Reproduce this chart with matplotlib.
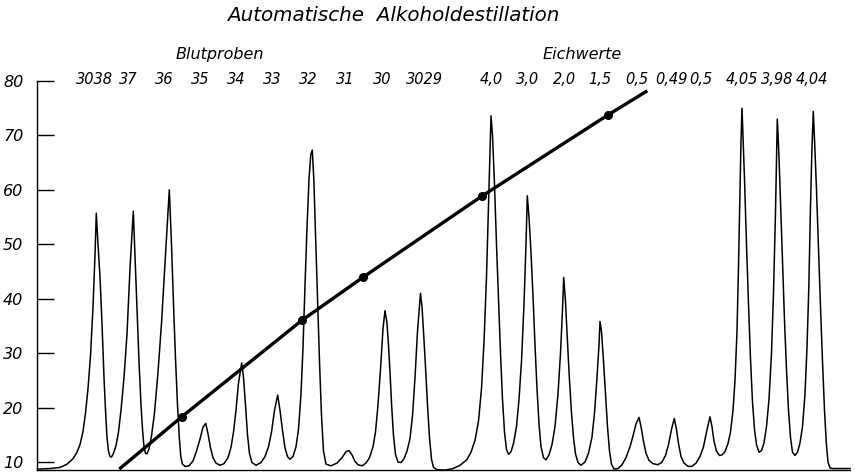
import matplotlib
matplotlib.use("Agg")
import matplotlib.pyplot as plt
from matplotlib import font_manager

# recorder trace (chart position, reading)
trace = [
    (37.5, 8.7), (50, 8.8), (60, 9.0), (67, 9.6), (73, 10.6), (77, 11.8), (80, 13.2),
    (83, 15.6), (85.5, 19.0), (88, 23.5), (90.5, 29.5), (93, 38.5), (95, 48), (96.3, 55.7),
    (98, 50), (100, 44), (102, 35.5), (104, 25.5), (105.5, 19.5), (107, 14.5), (108.5, 12.0),
    (110, 11.0), (111.5, 10.9), (113.5, 11.6), (116, 13.0), (118.5, 15.5), (121, 19.5),
    (124, 25.5), (127, 33.5), (130, 45.5), (133.3, 56.1), (135, 48), (137, 38.5), (139, 28.5),
    (141, 20.5), (142.7, 15.5), (144, 12.8), (145.5, 11.6), (147, 11.5), (149, 12.4),
    (151.5, 14.8), (154.5, 19.0), (158, 26.5), (161.5, 35.5), (165, 46.5), (169.3, 60.0),
    (171.5, 50), (173.5, 39), (175.5, 29), (177.5, 20.5), (179.3, 14.5), (180.8, 11.0),
    (182.5, 9.6), (185, 9.2), (189, 9.3), (193, 10.2), (196.5, 12.0), (200, 14.2),
    (203, 16.4), (205.7, 17.1), (208, 15.2), (210.5, 12.6), (213, 10.8), (216, 9.8),
    (220, 9.4), (224, 9.7), (228, 10.8), (231, 12.7), (233.5, 15.5), (236, 19.5),
    (238.5, 24.5), (241.7, 28.2), (243.5, 25.5), (245.5, 20.5), (247.5, 15.0), (249.5, 11.5),
    (252, 9.9), (256, 9.4), (261, 9.9), (265, 11.0), (268.5, 12.8), (271.5, 15.5),
    (274.5, 19.5), (277.7, 22.3), (280, 19.5), (282.5, 15.8), (285, 12.6), (287.5, 11.0),
    (290, 10.5), (293, 11.0), (296, 12.8), (298.5, 16.0), (301, 22.5), (303, 31), (305, 42.5),
    (307, 53), (309, 62), (310.8, 66.5), (312.3, 67.3), (313.8, 62), (315.5, 52), (317.5, 40),
    (319.5, 28.5), (321.5, 18.5), (323.5, 12.0), (326, 9.6), (331, 9.3), (337, 9.8),
    (342, 10.8), (346, 11.9), (349, 12.1), (352, 11.3), (355, 10.1), (358, 9.5), (362, 9.3),
    (366, 9.8), (369.5, 10.8), (373, 12.8), (375.5, 15.5), (378, 20.5), (380.5, 27.0),
    (383, 34.5), (385, 37.8), (387, 35.5), (388.5, 31.5), (390, 26.5), (391.7, 20.2),
    (393.5, 14.8), (395.5, 11.4), (398, 10.0), (401, 9.9), (404, 10.6), (407, 12.0),
    (410, 14.3), (412.5, 18.5), (415, 25.5), (417.5, 34), (420.5, 41.0), (422, 38.5),
    (423.5, 34), (425.5, 27.5), (427.5, 20.5), (429.5, 14.5), (431.5, 10.5), (433.5, 9.0),
    (437, 8.6), (445, 8.5), (453, 8.8), (460, 9.4), (466.7, 10.4), (471, 11.8), (475, 14.0),
    (478.5, 17.5), (481.5, 23.5), (484, 32), (486.5, 44), (488.5, 57), (490, 67), (491, 73.6),
    (492.5, 70), (494.5, 61), (496.5, 50), (498.5, 40), (500.5, 30), (502.5, 21.5),
    (504.5, 15.5), (506.5, 12.3), (508.5, 11.4), (511, 11.9), (513.5, 13.4), (516.5, 16.5),
    (519, 21.5), (521.5, 28.5), (524, 39), (526, 50), (527.3, 58.9), (529, 55), (531, 48.5),
    (533, 40.5), (535, 31.5), (537, 23.5), (539, 17.0), (541, 12.8), (543.5, 10.8),
    (546, 10.4), (549, 11.3), (552, 13.2), (555, 16.5), (558, 22.5), (560.5, 30), (562.5, 38),
    (563.7, 43.9), (565.5, 39.5), (567.5, 32), (569.5, 25), (571.5, 19.0), (573.5, 14.5),
    (575.5, 11.5), (578, 9.9), (581, 9.4), (585, 10.0), (588.5, 11.6), (592, 14.6),
    (594.5, 19.0), (597, 25.5), (599, 31.5), (600, 35.8), (601.5, 34), (603.5, 28.5),
    (605.5, 22.5), (607.5, 16.5), (609.5, 12.0), (611.5, 9.6), (614, 8.7), (618, 8.8),
    (622, 9.5), (626, 10.8), (630, 12.8), (633, 14.8), (636, 17.0), (639, 18.2), (641, 16.5),
    (643.5, 13.8), (646, 11.6), (649, 10.3), (653, 9.7), (658, 9.5), (662, 10.0),
    (665.5, 11.2), (668.5, 13.2), (671.5, 16.0), (674.3, 18.0), (676.5, 16.0), (678.5, 13.4),
    (681, 11.0), (684, 9.8), (688, 9.2), (692, 9.2), (696, 9.8), (700, 11.0), (703.5, 12.8),
    (706.5, 15.5), (710, 18.3), (712, 16.5), (714, 13.8), (716.5, 12.0), (719.5, 11.2),
    (722, 11.3), (725, 11.9), (728, 13.4), (730.5, 15.5), (733, 19.5), (735, 25), (737, 34),
    (738.5, 46), (740, 60), (741, 69), (742, 75.0), (743, 70), (744.5, 62), (746.5, 50),
    (748.5, 39), (750.5, 29), (752.5, 21), (754.5, 16), (756.5, 13.2), (759, 11.8),
    (761.5, 12.1), (764, 13.5), (766.5, 16.5), (769, 21.5), (771.5, 30), (773.5, 41),
    (775.5, 56), (777.3, 73.0), (778.8, 67), (780.5, 58), (782.5, 47), (784.5, 36),
    (786.5, 27), (788.5, 19.5), (790.5, 14.5), (792.5, 11.8), (795, 11.2), (797.5, 11.8),
    (800, 13.5), (802.5, 16.5), (805, 22.5), (807, 31), (808.8, 42), (810.5, 57), (812, 68),
    (813.3, 74.4), (814.8, 68), (816.5, 60), (818.5, 49), (820.5, 38.5), (822.5, 28.5),
    (824.5, 19.5), (826.3, 13.5), (828, 10.0), (830, 8.9), (833, 8.8), (850, 8.8),
]
trace_x = [p[0] for p in trace]
trace_y = [p[1] for p in trace]

# calibration line and its measured points
cal_x = [119.3, 181.7, 301.7, 362.7, 420, 482.3, 608.3, 647.3]
cal_y = [8.7, 18.3, 36.0, 43.9, 51.1, 58.9, 73.8, 78.2]
dot_x = [181.7, 301.7, 362.7, 482.3, 608.3]
dot_y = [18.3, 36.0, 43.9, 58.9, 73.8]

# sample labels above the peaks
blood_x = [94, 128, 164, 200, 236, 272, 308, 345, 382, 424]
blood_labels = ["3038", "37", "36", "35", "34", "33", "32", "31", "30", "3029"]
calib_x = [491, 528, 564, 600, 637, 671, 701, 742, 777, 812]
calib_labels = ["4,0", "3,0", "2,0", "1,5", "0,5", "0,49", "0,5", "4,05", "3,98", "4,04"]

yticks = [10, 20, 30, 40, 50, 60, 70, 80]

# narrow italic lettering if available
names = {f.name for f in font_manager.fontManager.ttflist}
narrow = "Liberation Sans Narrow" in names
font = dict(family="Liberation Sans Narrow" if narrow else "DejaVu Sans", style="italic")
nsize = 12 if narrow else 10.5

fig = plt.figure(figsize=(8.55, 4.73), dpi=100)
ax = fig.add_axes([0, 0, 1, 1])
ax.set_xlim(0, 855)
ax.set_ylim(7.98, 94.88)

ax.plot(trace_x, trace_y, color="black", linewidth=1.1, solid_joinstyle="round")
ax.plot(cal_x, cal_y, color="black", linewidth=2.4, solid_capstyle="butt")
ax.plot(dot_x, dot_y, "o", color="black", markersize=5.5)

for s in ["top", "right"]:
    ax.spines[s].set_visible(False)
ax.spines["left"].set_position(("data", 37.3))
ax.spines["left"].set_bounds(8.6, 80)
ax.spines["bottom"].set_position(("data", 8.6))
ax.spines["bottom"].set_bounds(37.3, 850)
for s in ["left", "bottom"]:
    ax.spines[s].set_linewidth(1.0)

ax.set_xticks([])
ax.set_yticks(yticks)
ax.set_yticklabels([str(t) for t in yticks], fontdict=dict(font, size=nsize + 1))
ax.tick_params(axis="y", direction="in", length=12, width=1.0, pad=10)

for x, lab in zip(blood_x, blood_labels):
    ax.text(x, 80.2, lab, ha="center", va="center", fontsize=nsize, **font)
for x, lab in zip(calib_x, calib_labels):
    ax.text(x, 80.2, lab, ha="center", va="center", fontsize=nsize, **font)

ax.text(220, 84.8, "Blutproben", ha="center", va="center", fontsize=nsize + 1, **font)
ax.text(582, 84.8, "Eichwerte", ha="center", va="center", fontsize=nsize + 1, **font)
ax.text(393, 92.1, "Automatische  Alkoholdestillation", ha="center", va="center",
        fontsize=nsize + 3.8, **font)

plt.savefig("out.png", dpi=100)
